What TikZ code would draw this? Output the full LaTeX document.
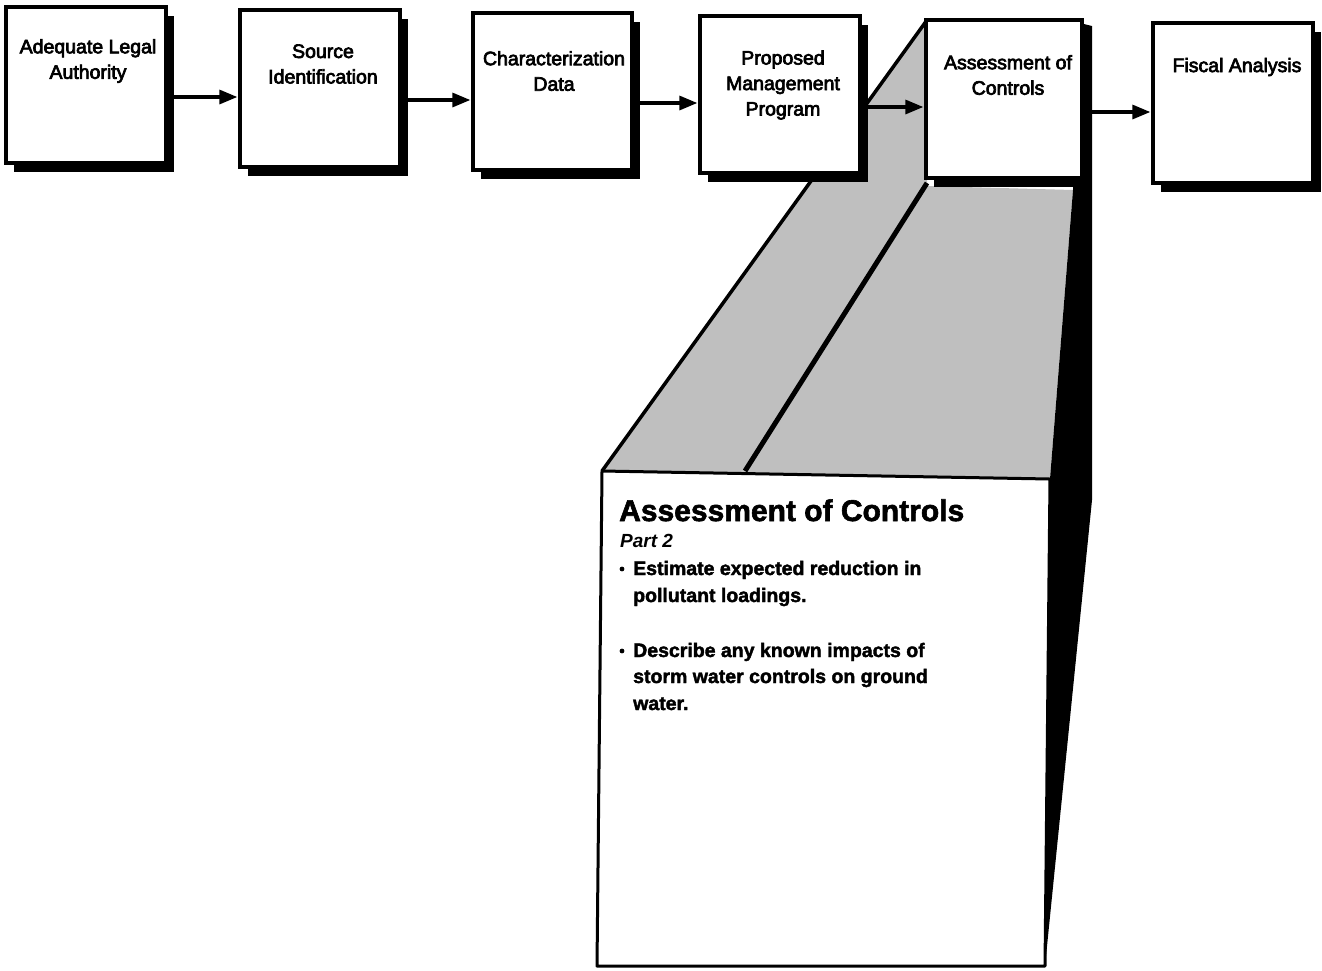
\documentclass[tikz,border=0pt]{standalone}
\usepackage{fontspec}
\setmainfont{Liberation Sans}[BoldFeatures={FakeBold=2}]
\newfontfamily\labelfont[FakeBold=3.5]{Liberation Sans}
\usetikzlibrary{arrows.meta,shadows}

\begin{document}
\begin{tikzpicture}[x=1pt,y=-1pt,
  stepbox/.style={draw, line width=3.3pt, fill=white, inner sep=0pt,
    drop shadow={shadow xshift=8pt, shadow yshift=-9pt, fill=black, opacity=1}},
  steplabel/.style={align=center, inner sep=0pt,
    font=\labelfont\fontsize{19.5}{25.5}\selectfont},
  arr/.style={line width=3.2pt, -{Triangle[length=18pt,width=14pt]}, shorten >=1pt},
  edge/.style={line width=3.5pt, line join=round},
  bodytext/.style={anchor=base west, inner sep=0pt,
    font=\bfseries\fontsize{19.5}{24}\selectfont}]

\useasboundingbox (0,0) rectangle (1322,970);

% corners of the exploded 3-D view
\coordinate (ftl) at (602,471);
\coordinate (ftr) at (1050,479);
\coordinate (fbr) at (1045,966);
\coordinate (fbl) at (597,966);
\coordinate (btl) at (927,20);
\coordinate (bbl) at (927,183);
\coordinate (btr) at (1073,190);
\coordinate (fmid) at (745,471);

% shaded top face
\fill[black!25] (ftl) -- (btl) -- (927,186) -- (btr) -- (ftr) -- cycle;
\draw[edge] (ftl) -- (btl);
\draw[line width=5pt] (fmid) -- (bbl);

% black side face
\fill[black] (1076,22) -- (1092,26) -- (1092,500) -- (fbr) -- (ftr) -- (btr) -- cycle;

% front face
\draw[line width=3pt, fill=white, line join=round] (ftl) -- (ftr) -- (fbr) -- (fbl) -- cycle;

% process boxes
\node[stepbox, minimum width=160, minimum height=156] (b1) at (86,85) {};
\node[stepbox, minimum width=160, minimum height=157] (b2) at (320,88.5) {};
\node[stepbox, minimum width=159, minimum height=157] (b3) at (552.5,91.5) {};
\node[stepbox, minimum width=160, minimum height=157] (b4) at (780,94.5) {};
\node[stepbox, minimum width=156, minimum height=158] (b5) at (1004,99) {};
\node[stepbox, minimum width=160, minimum height=160] (b6) at (1233,103) {};

\node[steplabel] (l1) at (88,61) {Adequate Legal\\Authority};
\node[steplabel] (l2) at (323,64) {Source\\Identification};
\node[steplabel] (l3) at (554,71) {Characterization\\Data};
\node[steplabel] (l4) at (783,85) {Proposed\\Management\\Program};
\node[steplabel] (l5) at (1008,75) {Assessment of\\Controls};
\node[steplabel] (l6) at (1237,67) {Fiscal Analysis};

% connectors
\coordinate (y1) at (0,97);
\coordinate (y2) at (0,100);
\coordinate (y3) at (0,103);
\coordinate (y4) at (0,107);
\coordinate (y5) at (0,112);
\draw[arr] (b1.east |- y1) -- (b2.west |- y1);
\draw[arr] (b2.east |- y2) -- (b3.west |- y2);
\draw[arr] (b3.east |- y3) -- (b4.west |- y3);
\draw[arr] (b4.east |- y4) -- (b5.west |- y4);
\draw[arr] (b5.east |- y5) -- (b6.west |- y5);

% text on the front face
\node[anchor=base west, inner sep=0pt, font=\bfseries\fontsize{30}{36}\selectfont]
  (title) at (619,521) {Assessment of Controls};
\node[anchor=base west, inner sep=0pt, font=\bfseries\itshape\fontsize{19}{24}\selectfont]
  (part) at (620,547) {Part 2};
\fill (622,569) circle (2.4) coordinate (dot1);
\node[bodytext] (t1) at (633,575) {Estimate expected reduction in};
\node[bodytext] (t2) at (633,602) {pollutant loadings.};
\fill (622,651) circle (2.4) coordinate (dot2);
\node[bodytext] (t3) at (633,657) {Describe any known impacts of};
\node[bodytext] (t4) at (633,683) {storm water controls on ground};
\node[bodytext] (t5) at (633,710) {water.};
\end{tikzpicture}
\end{document}
